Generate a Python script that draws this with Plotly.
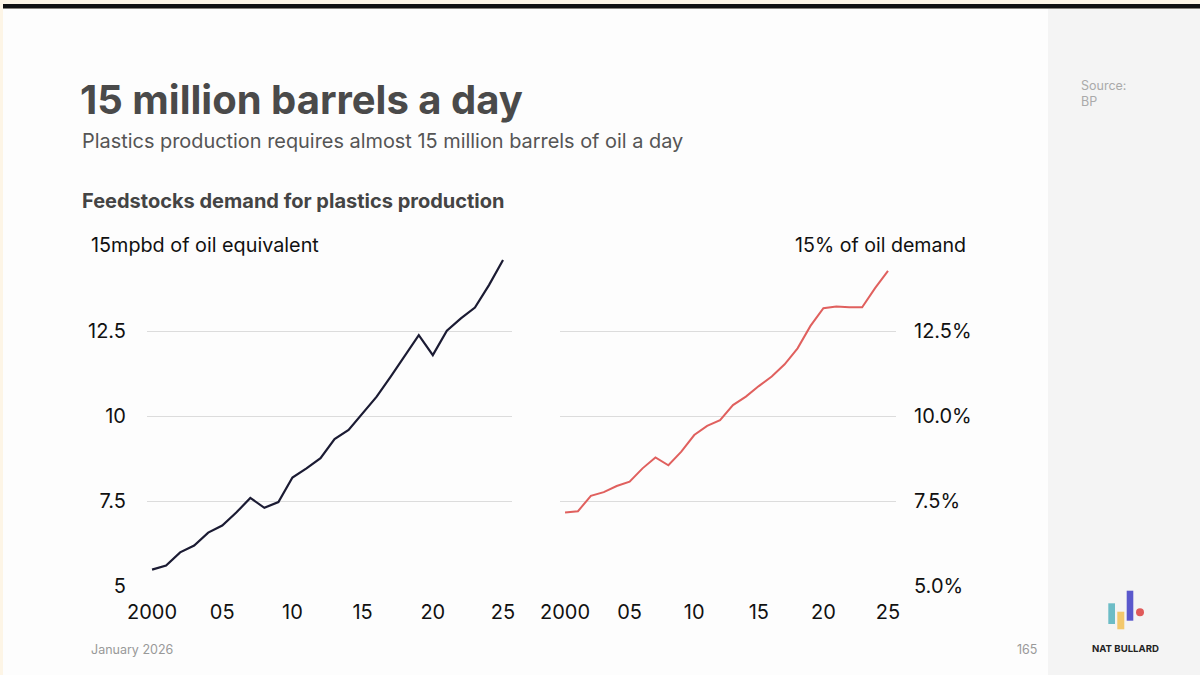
import plotly.graph_objects as go

# ---------------- data ----------------
years = list(range(2000, 2026))
feedstock_mbd = [5.48, 5.60, 5.99, 6.19, 6.57, 6.78, 7.16, 7.59, 7.30, 7.47,
                 8.19, 8.46, 8.76, 9.32, 9.59, 10.08, 10.57, 11.16, 11.76, 12.38,
                 11.79, 12.51, 12.87, 13.19, 13.85, 14.59]
share_pct = [7.16, 7.20, 7.65, 7.76, 7.94, 8.07, 8.46, 8.78, 8.55, 8.95,
             9.44, 9.71, 9.88, 10.32, 10.57, 10.88, 11.16, 11.52, 11.99, 12.65,
             13.17, 13.22, 13.20, 13.20, 13.76, 14.27]
x_tickvals = [2000, 2005, 2010, 2015, 2020, 2025]
x_ticktext = ["2000", "05", "10", "15", "20", "25"]
left_tickvals = [5, 7.5, 10, 12.5]
left_ticktext = ["5", "7.5", "10", "12.5"]
right_tickvals = [5, 7.5, 10, 12.5]
right_ticktext = ["5.0%", "7.5%", "10.0%", "12.5%"]

W, H = 1200, 675
def px(x):
    return x / W
def py(y):
    return 1 - y / H

FONT = "Inter, Roboto, 'Noto Sans', sans-serif"

fig = go.Figure()
fig.add_trace(go.Scatter(x=years, y=feedstock_mbd, mode="lines",
                         line=dict(color="#1b1b33", width=2.2),
                         xaxis="x", yaxis="y", showlegend=False))
fig.add_trace(go.Scatter(x=years, y=share_pct, mode="lines",
                         line=dict(color="#e0605e", width=2),
                         xaxis="x2", yaxis="y2", showlegend=False))

tickfont = dict(family=FONT, size=20, color="#111111")
common_x = dict(tickvals=x_tickvals, ticktext=x_ticktext, showgrid=False,
                zeroline=False, showline=False, ticks="", tickfont=tickfont,
                ticklabelstandoff=12, fixedrange=True, automargin=False)
common_y = dict(range=[5, 15], showgrid=True, gridcolor="#dcdcdc", gridwidth=1,
                zeroline=False, showline=False, ticks="", tickfont=tickfont,
                fixedrange=True, automargin=False)

fig.update_layout(
    width=W, height=H,
    margin=dict(l=0, r=0, t=0, b=0, pad=0, autoexpand=False),
    paper_bgcolor="#fdf5e6",
    plot_bgcolor="rgba(0,0,0,0)",
    font=dict(family=FONT),
    xaxis=dict(domain=[px(147), px(512)], range=[1999.64, 2025.64], anchor="y", **common_x),
    yaxis=dict(domain=[py(586), py(246)], anchor="x", tickvals=left_tickvals,
               ticktext=left_ticktext, side="left", ticklabelstandoff=20, **common_y),
    xaxis2=dict(domain=[px(560), px(896)], range=[1999.61, 2025.62], anchor="y2", **common_x),
    yaxis2=dict(domain=[py(586), py(246)], anchor="x2", tickvals=right_tickvals,
                ticktext=right_ticktext, side="right", ticklabelstandoff=17, **common_y),
)

shapes = [
    # white slide
    dict(type="rect", xref="paper", yref="paper", x0=px(3), x1=px(1048), y0=0, y1=py(9),
         fillcolor="#fdfdfd", line=dict(width=0), layer="below"),
    # grey sidebar
    dict(type="rect", xref="paper", yref="paper", x0=px(1048), x1=1, y0=0, y1=py(9),
         fillcolor="#f4f4f4", line=dict(width=0), layer="below"),
    # black top bar
    dict(type="rect", xref="paper", yref="paper", x0=px(3), x1=1, y0=py(8.5), y1=py(4),
         fillcolor="#111111", line=dict(width=0), layer="below"),
    # logo bars
    dict(type="rect", xref="paper", yref="paper", x0=px(1108.3), x1=px(1115), y0=py(624), y1=py(603.3),
         fillcolor="#6cbcc6", line=dict(width=0)),
    dict(type="rect", xref="paper", yref="paper", x0=px(1117.3), x1=px(1124.3), y0=py(629.3), y1=py(611.7),
         fillcolor="#f3c86c", line=dict(width=0)),
    dict(type="rect", xref="paper", yref="paper", x0=px(1126.7), x1=px(1133.3), y0=py(620.7), y1=py(590.7),
         fillcolor="#5a58cc", line=dict(width=0)),
    dict(type="circle", xref="paper", yref="paper", x0=px(1136), x1=px(1144), y0=py(616.3), y1=py(608.3),
         fillcolor="#e05a5a", line=dict(width=0)),
]
fig.update_layout(shapes=shapes)

def ann(text, x, y, size, color, xanchor="left", bold=False, yanchor="middle", align="left"):
    t = f"<b>{text}</b>" if bold else text
    fig.add_annotation(text=t, x=px(x), y=py(y), xref="paper", yref="paper",
                       xanchor=xanchor, yanchor=yanchor, showarrow=False, align=align,
                       font=dict(family=FONT, size=size, color=color))

ann("15 million barrels a day", 78, 99, 40, "#4a4a4a", bold=True)
ann("Plastics production requires almost 15 million barrels of oil a day", 80, 141, 19.9, "#555555")
ann("Feedstocks demand for plastics production", 80, 201, 20, "#444444", bold=True)
ann("15mpbd of oil equivalent", 89, 245, 19.8, "#111111")
ann("15% of oil demand", 968, 245, 19.6, "#111111", xanchor="right")
ann("January 2026", 89, 649, 12.5, "#999999")
ann("165", 1039, 649, 12.5, "#999999", xanchor="right")
ann("Source:<br>BP", 1079, 93.5, 12.5, "#aaaaaa", align="left")
ann("NAT BULLARD", 1125, 648, 9.6, "#222222", xanchor="center", bold=True)

fig.write_html("out.html", config={"displayModeBar": False},
               post_script="document.body.style.margin='0';document.body.style.padding='0';")
